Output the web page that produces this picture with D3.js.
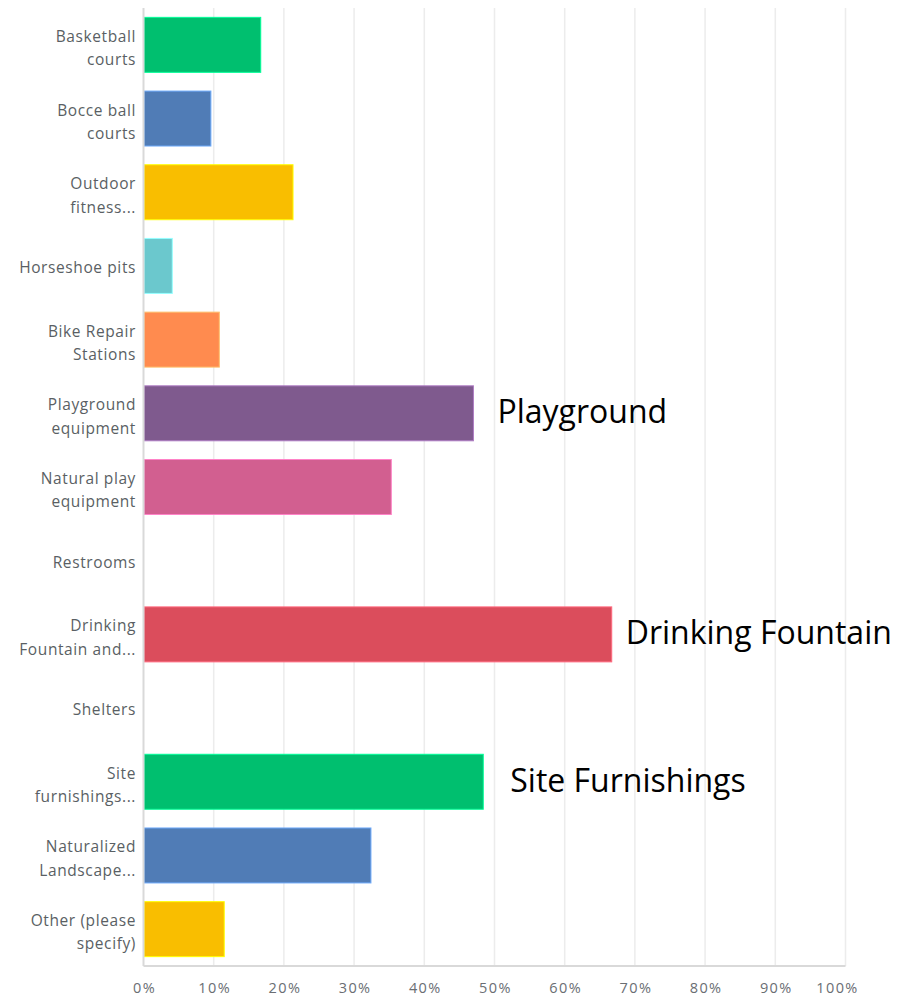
<!DOCTYPE html>
<html>
<head>
<meta charset="utf-8">
<script src="https://cdn.jsdelivr.net/npm/d3@7"></script>
<style>
  html, body { margin: 0; padding: 0; background: #fff; }
  svg { display: block; }
</style>
</head>
<body>
<svg id="chart" width="897" height="999"></svg>
<script>
// ---- data ----
const categories = [
  "Basketball\ncourts",
  "Bocce ball\ncourts",
  "Outdoor\nfitness...",
  "Horseshoe pits",
  "Bike Repair\nStations",
  "Playground\nequipment",
  "Natural play\nequipment",
  "Restrooms",
  "Drinking\nFountain and...",
  "Shelters",
  "Site\nfurnishings...",
  "Naturalized\nLandscape...",
  "Other (please\nspecify)"
];
const values = [16.7, 9.6, 21.3, 4.1, 10.8, 47.0, 35.3, 0, 66.7, 0, 48.4, 32.4, 11.5];
const barColors = ["#00BF6F", "#507CB6", "#F9BE00", "#6BC8CD", "#FF8B4F", "#7F5A8E", "#D25F90",
                   "#A0A0A0", "#DB4D5C", "#A0A0A0", "#00BF6F", "#507CB6", "#F9BE00"];
const tickValues = [0, 10, 20, 30, 40, 50, 60, 70, 80, 90, 100];
const tickLabels = ["0%", "10%", "20%", "30%", "40%", "50%", "60%", "70%", "80%", "90%", "100%"];
const annotationCategoryIdx = [5, 8, 10];
const annotationTexts = ["Playground", "Drinking Fountain", "Site Furnishings"];

// ---- layout ----
const svg = d3.select("#chart");
const x0 = 143.5, x1 = 845.5, yTop = 8, yBottom = 966;
const annGap = [24, 14, 27];

const x = d3.scaleLinear().domain([0, 100]).range([x0, x1]);
const y = d3.scaleBand().domain(d3.range(categories.length)).range([yTop, yBottom])
  .paddingInner(0.254).paddingOuter(0.127);

// gridlines
svg.append("g").selectAll("line").data(tickValues.slice(1)).join("line")
  .attr("x1", d => x(d)).attr("x2", d => x(d))
  .attr("y1", yTop).attr("y2", yBottom)
  .attr("stroke", "#ececec").attr("stroke-width", 1.5);

// bars
svg.append("g").selectAll("rect").data(values).join("rect")
  .attr("x", x(0) + 0.5)
  .attr("y", (d, i) => y(i))
  .attr("width", d => Math.max(0, x(d) - x(0) - 0.5))
  .attr("height", y.bandwidth())
  .attr("fill", (d, i) => barColors[i])
  .attr("stroke", (d, i) => d3.color(barColors[i]).brighter(0.9).formatHex())
  .attr("stroke-width", d => d > 0 ? 1 : 0);

// axes lines
svg.append("line").attr("x1", x0).attr("x2", x0).attr("y1", yTop).attr("y2", yBottom)
  .attr("stroke", "#d9d9d9").attr("stroke-width", 2);
svg.append("line").attr("x1", x0).attr("x2", x1).attr("y1", yBottom).attr("y2", yBottom)
  .attr("stroke", "#d9d9d9").attr("stroke-width", 2);

// category labels
const labelG = svg.append("g")
  .attr("font-family", "'Open Sans', sans-serif")
  .attr("font-size", 15.5)
  .attr("letter-spacing", 0.6)
  .attr("fill", "#5a5f64")
  .attr("text-anchor", "end");
categories.forEach((c, i) => {
  const lines = c.split("\n");
  const cy = y(i) + y.bandwidth() / 2;
  const t = labelG.append("text").attr("x", 136);
  if (lines.length === 1) {
    t.append("tspan").attr("x", 136).attr("y", cy + 7).text(lines[0]);
  } else {
    lines.forEach((ln, j) => {
      t.append("tspan").attr("x", 136).attr("y", cy - 3 + j * 23.3).text(ln);
    });
  }
});

// x tick labels
svg.append("g")
  .attr("font-family", "'Open Sans', sans-serif")
  .attr("font-size", 14.5)
  .attr("letter-spacing", 1.4)
  .attr("fill", "#6a6e73")
  .attr("text-anchor", "middle")
  .selectAll("text").data(tickValues).join("text")
  .attr("x", (d, i) => x(d) + (i === tickValues.length - 1 ? -8 : 1))
  .attr("y", 993)
  .text((d, i) => tickLabels[i]);

// annotations
svg.append("g")
  .attr("font-family", "'Open Sans', sans-serif")
  .attr("font-size", 32)
  .attr("fill", "#000")
  .selectAll("text").data(annotationTexts).join("text")
  .attr("x", (d, i) => x(values[annotationCategoryIdx[i]]) + annGap[i])
  .attr("y", (d, i) => y(annotationCategoryIdx[i]) + y.bandwidth() / 2 + 10)
  .text(d => d);
</script>
</body>
</html>
